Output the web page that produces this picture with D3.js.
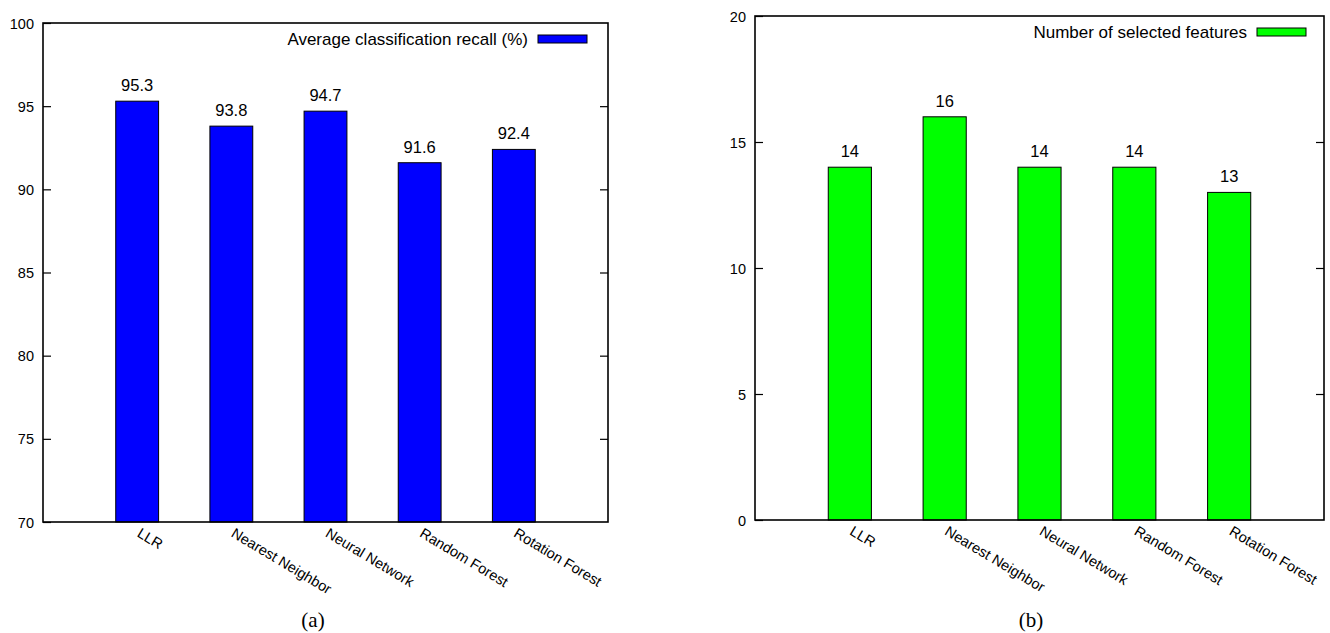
<!DOCTYPE html>
<html><head><meta charset="utf-8">
<script src="https://cdn.jsdelivr.net/npm/d3@7"></script>
<style>body{margin:0;background:#fff}svg{display:block}</style>
</head><body>
<svg id="c" width="1330" height="633"></svg>
<script>
const categories = ["LLR","Nearest Neighbor","Neural Network","Random Forest","Rotation Forest"];
const recallValues = [95.3, 93.8, 94.7, 91.6, 92.4];
const featureValues = [14, 16, 14, 14, 13];
const recallTicks = [70,75,80,85,90,95,100];
const featureTicks = [0,5,10,15,20];
const recallLabels = ["95.3","93.8","94.7","91.6","92.4"];
const featureLabels = ["14","16","14","14","13"];

const svg = d3.select("#c");
const FONT = "'Liberation Sans', Arial, Helvetica, sans-serif";

function panel(o){
  const g = svg.append("g");
  const x = d3.scaleLinear().domain([-1, categories.length]).range([o.left, o.right]);
  const y = d3.scaleLinear().domain(o.domain).range([o.bottom, o.top]);
  const bw = 0.455;
  g.selectAll("rect.bar").data(o.values).join("rect")
    .attr("x", (d,i)=>x(i-bw/2)).attr("width", x(bw)-x(0))
    .attr("y", d=>y(d)).attr("height", d=>y(o.domain[0])-y(d))
    .attr("fill", o.color).attr("stroke","#000").attr("stroke-width",1);
  g.selectAll("text.val").data(o.values).join("text")
    .attr("x",(d,i)=>x(i)).attr("y", d=>y(d)-10)
    .attr("text-anchor","middle").attr("font-family",FONT).attr("font-size",16.5)
    .text((d,i)=>o.labels[i]);
  const left = d3.axisLeft(y).tickValues(o.ticks).tickSizeInner(-8).tickSizeOuter(0).tickPadding(9);
  const ga = g.append("g").attr("transform",`translate(${o.left},0)`).call(left);
  ga.attr("font-size",null).attr("font-family",null);
  ga.select(".domain").remove();
  ga.selectAll("line").attr("stroke","#000").attr("stroke-width",1.2);
  ga.selectAll("text").attr("font-family",FONT).attr("font-size",14.5).attr("fill","#000").attr("dy","0.35em");
  const right = d3.axisRight(y).tickValues(o.ticks.filter(t=>t!==o.domain[0]&&t!==o.domain[1])).tickSizeInner(-8).tickSizeOuter(0).tickFormat("");
  const gr = g.append("g").attr("transform",`translate(${o.right},0)`).call(right);
  gr.select(".domain").remove();
  gr.selectAll("line").attr("stroke","#000").attr("stroke-width",1.2);
  g.append("rect").attr("x",o.left).attr("y",o.top).attr("width",o.right-o.left).attr("height",o.bottom-o.top)
    .attr("fill","none").attr("stroke","#000").attr("stroke-width",1.6);
  g.selectAll("text.xl").data(categories).join("text")
    .attr("transform",(d,i)=>`translate(${x(i)-1},${o.bottom+14}) rotate(31)`)
    .attr("font-family",FONT).attr("font-size",14.5).attr("text-anchor","start")
    .text(d=>d);
  g.append("text").attr("x",o.legendX-10).attr("y",o.legendY+6)
    .attr("text-anchor","end").attr("font-family",FONT).attr("font-size",17).text(o.legend);
  g.append("rect").attr("x",o.legendX).attr("y",o.legendY-4).attr("width",49).attr("height",8)
    .attr("fill",o.color).attr("stroke","#000").attr("stroke-width",1);
  g.append("text").attr("x",o.capX).attr("y",627).attr("text-anchor","middle")
    .attr("font-family","'Liberation Serif','DejaVu Serif',serif").attr("font-size",21).text(o.caption);
}

panel({left:43,right:608,top:23,bottom:522,domain:[70,100],values:recallValues,labels:recallLabels,ticks:recallTicks,
  color:"#0000ff",legend:"Average classification recall (%)",legendX:538,legendY:39,caption:"(a)",capX:313});
panel({left:755,right:1324,top:16,bottom:520,domain:[0,20],values:featureValues,labels:featureLabels,ticks:featureTicks,
  color:"#00ff00",legend:"Number of selected features",legendX:1257,legendY:32,caption:"(b)",capX:1031});
</script>
</body></html>
